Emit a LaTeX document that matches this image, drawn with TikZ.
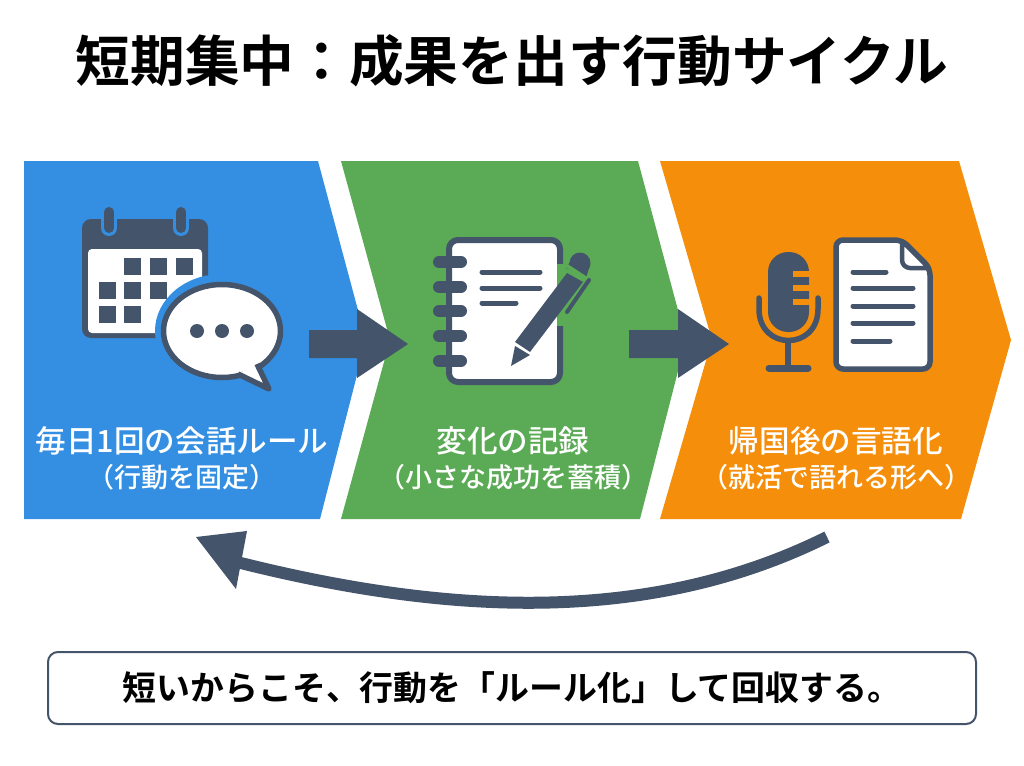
\documentclass[tikz,border=0pt]{standalone}
\usepackage{fontspec}
\setmainfont{Noto Sans CJK JP}
\newfontfamily\jpb{Noto Sans CJK JP Bold}
\newfontfamily\jpm{Noto Sans CJK JP Medium}
\definecolor{ink}{HTML}{44546A}
\definecolor{blu}{HTML}{348FE2}
\definecolor{grn}{HTML}{5BAA55}
\definecolor{org}{HTML}{F58E0B}
\tikzset{x=1pt,y=-1pt,
 lbl/.style={text=white,font=\jpm\fontsize{30.6}{36}\selectfont,align=center},
 ic/.style={draw=ink,line width=5.5pt,fill=white,line join=round},
 ln/.style={draw=ink,line width=5pt,line cap=round},
 ar/.style={fill=ink,draw=none}}
\begin{document}
\begin{tikzpicture}
\useasboundingbox (0,0) rectangle (1024,765);
\fill[white] (0,0) rectangle (1024,765);
\node[font=\jpb\fontsize{54.7}{60}\selectfont,text=black] (title) at (512,61) {短期集中：成果を出す行動サイクル};
\fill[blu] (24,161)--(318,161)--(366,340)--(320,519)--(24,519)--cycle;
\fill[grn] (341,161)--(638,161)--(686,340)--(640,519)--(341,519)--(390,340)--cycle;
\fill[org] (660,161)--(959,161)--(1011,340)--(961,519)--(660,519)--(712,340)--cycle;
% calendar
\fill[ink,rounded corners=9pt] (82,219) rectangle (208,338);
\fill[white,rounded corners=4pt] (88,249) rectangle (202,333);
\foreach \x/\y in {124/258,150/258,176/258,99/282,124/282,150/282,99/306,124/306}{\fill[ink] (\x,\y) rectangle ++(17,17);}
\draw[blu,line width=16pt,line cap=round] (109,212)--(109,228);
\draw[blu,line width=16pt,line cap=round] (181,212)--(181,228);
\draw[ink,line width=10pt,line cap=round] (109,212)--(109,228);
\draw[ink,line width=10pt,line cap=round] (181,212)--(181,228);
% bubble
\fill[blu] (222,331) ellipse (67 and 57);
\draw[ic] (222,331) ellipse (58.5 and 46.5);
\draw[ink,line width=5.5pt,fill=white,line join=round] (238,374)--(269,389)--(257,364);
\fill[white] (234,371)--(257,361)--(250,350)--(232,355)--cycle;
\foreach \x in {197,222,247}{\fill[ink] (\x,331) circle (7);}
% notebook
\draw[ic,line width=6pt,rounded corners=9pt] (449,240) rectangle (560,382);
\foreach \y in {262,287,311,336,361}{\draw[ink,line width=12pt,line cap=round] (439,\y)--(461,\y);}
\foreach \y/\e in {272/540,288/540,303/516}{\draw[ln] (482,\y)--(\e,\y);}
% pen
\fill[grn] (556.5,264) -- (564,264) -- (564,326) -- (556.5,326) -- cycle;
\fill[white] (553,272) rectangle (556.5,326);
\fill[ink] (567,273)--(583,282)--(530,352)--(515,342)--cycle;
\fill[ink] (580,263) circle (10.5);
\fill[ink] (570,262)--(590,265)--(586,278)--(566,268)--cycle;
\fill[grn] (564,266)--(566,263)--(589,278)--(587,282)--cycle;
\fill[ink] (515,346)--(530,355)--(511,366)--cycle;
\draw[ink,line width=4pt,line cap=round] (589,280)--(567,312);
% mic
\fill[ink,rounded corners=20pt] (768,252) rectangle (809,332);
\foreach \y in {274,288,302}{\fill[org] (793,\y-3) rectangle (811,\y+3);}
\draw[ink,line width=5.5pt,line cap=round] (759,298) -- (759,309) .. controls (759,351) and (818,351) .. (818,309) -- (818,298);
\draw[ink,line width=6pt] (788,340)--(788,368);
\draw[ink,line width=7pt,line cap=round] (769,368)--(808,368);
% document
\draw[ic,rounded corners=7pt] (836,240) -- (902,240) -- (930,268) -- (930,369) -- (836,369) -- cycle;
\draw[draw=ink,line width=4.5pt,fill=white,line join=round] (902,241) -- (902,260) to[out=270,in=180] (910,268) -- (929,268) -- cycle;
\foreach \y/\e in {272/886,288/913,306/913,323/913,341/890}{\draw[ln] (853,\y)--(\e,\y);}
% arrows
\fill[ar] (309,330)--(357,330)--(357,309)--(408,344)--(357,378)--(357,358)--(309,358)--cycle;
\fill[ar] (629,330)--(678,330)--(678,309)--(729,344)--(678,378)--(678,358)--(629,358)--cycle;
% return arrow
\coordinate (rs) at (827,537);
\coordinate (re) at (225,559);
\draw[ink,line width=12pt] (rs) .. controls (640,630) and (430,612) .. (re);
\fill[ar] (196,537)--(247,531)--(236,589)--cycle;
% bottom box
\node[draw=ink,line width=2pt,rounded corners=10pt,fill=white,minimum width=928pt,minimum height=72pt,font=\jpb\fontsize{33.9}{40}\selectfont,text=black] (note) at (512,688) {短いからこそ、行動を「ルール化」して回収する。};
\node[lbl] (l1) at (182,458) {毎日1回の会話ルール\\[-1pt]{\fontsize{27}{30}\selectfont（行動を固定）}};
\node[lbl] (l2) at (513,458) {変化の記録\\[-1pt]{\fontsize{27}{30}\selectfont（小さな成功を蓄積）}};
\node[lbl] (l3) at (836,458) {帰国後の言語化\\[-1pt]{\fontsize{27}{30}\selectfont（就活で語れる形へ）}};
\end{tikzpicture}
\end{document}
